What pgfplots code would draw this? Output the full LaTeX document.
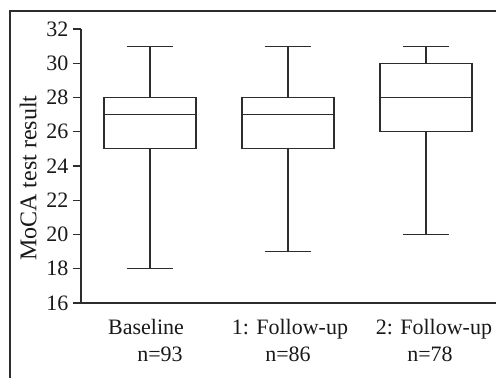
\documentclass[border=0pt]{standalone}
\usepackage{pgfplots}
\pgfplotsset{compat=1.18}
\usepgfplotslibrary{statistics}
\usepackage{fontspec}
\setmainfont{Liberation Serif}
\definecolor{ln}{RGB}{45,45,45}
\definecolor{tx}{RGB}{25,25,25}
\begin{document}
\begin{tikzpicture}[x=1pt,y=1pt]
\clip (-81,-75) rectangle (415,303);
\draw[ln, line width=1.5pt] (-71,-90) -- (-71,292) -- (430,292);
\begin{axis}[
  at={(0,0)}, anchor=origin,
  scale only axis,
  width=430pt, height=274pt,
  xmin=0.5, xmax=3.616,
  ymin=16, ymax=32,
  axis x line=bottom, axis y line=left,
  axis line style={ln, line width=1.2pt, -},
  ytick={16,18,...,32},
  xtick={1,2,3},
  xticklabels={
    {\hspace*{-8pt}Baseline\\\hspace*{20pt}n=93},
    {\hspace*{4pt}1: Follow-up\\n=86},
    {\hspace*{16pt}2: Follow-up\\\hspace*{8pt}n=78}},
  x tick style={draw=none},
  y tick style={ln, line width=1.2pt},
  tick align=outside,
  major tick length=8pt,
  tick label style={font=\fontsize{22}{27}\selectfont, text=tx},
  /pgf/number format/assume math mode=true,
  xticklabel style={align=center, yshift=-5pt},
  yticklabel style={xshift=-1pt},
  ylabel={MoCA test result},
  ylabel style={font=\fontsize{24}{27}\selectfont, text=tx, at={(ticklabel cs:0.5)}, xshift=-12pt, yshift=3pt},
  clip=false,
  boxplot/draw direction=y,
]
\addplot[ln, line width=1.2pt, solid, boxplot prepared={lower whisker=18, lower quartile=25, median=27, upper quartile=28, upper whisker=31, box extend=0.667, whisker extend=0.34}] coordinates {};
\addplot[ln, line width=1.2pt, solid, boxplot prepared={lower whisker=19, lower quartile=25, median=27, upper quartile=28, upper whisker=31, box extend=0.667, whisker extend=0.34}] coordinates {};
\addplot[ln, line width=1.2pt, solid, boxplot prepared={lower whisker=20, lower quartile=26, median=28, upper quartile=30, upper whisker=31, box extend=0.667, whisker extend=0.34}] coordinates {};
\end{axis}
\end{tikzpicture}
\end{document}
